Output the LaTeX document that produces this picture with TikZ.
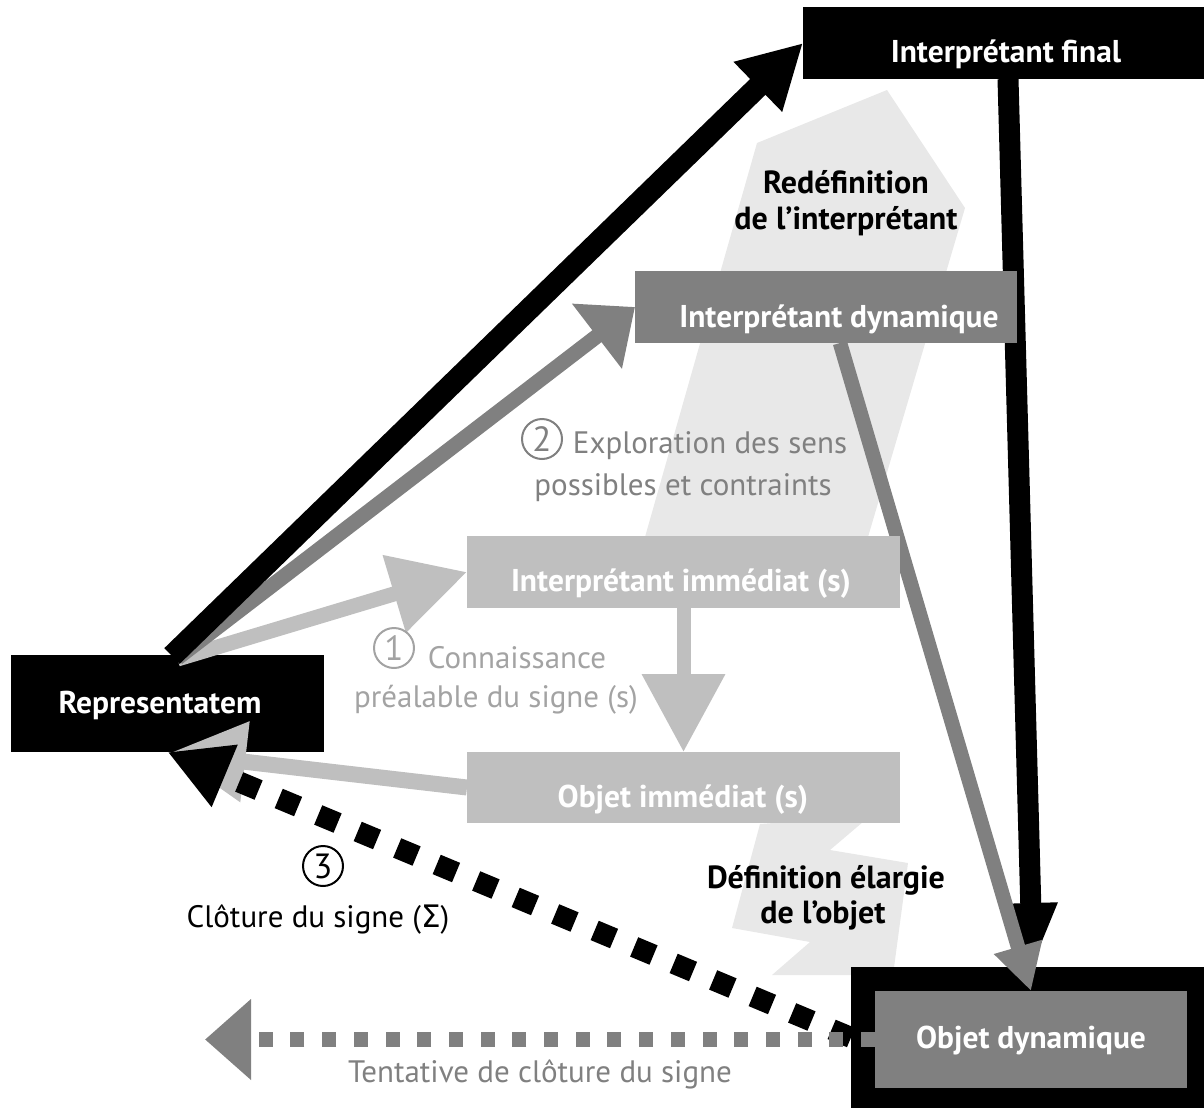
\documentclass[tikz,border=0pt]{standalone}
\usepackage{fontspec}
\setmainfont{PT Sans}
\newfontfamily\symfont{DejaVu Sans}
\usetikzlibrary{arrows.meta,calc}
\definecolor{dgray}{HTML}{808080}
\definecolor{lgray}{HTML}{BFBFBF}
\definecolor{bggray}{HTML}{E8E8E8}
\definecolor{lbl}{HTML}{A3A3A3}
\tikzset{
  boxn/.style={inner sep=0pt, outer sep=0pt, anchor=north west, draw=none},
  arr/.style n args={3}{line width=#1, -{Triangle[length=#2,width=#3]}},
  btxt/.style={inner sep=0pt, anchor=base, font=\fontsize{31.5}{36}\selectfont\bfseries, text=white},
  ktxt/.style={inner sep=0pt, anchor=base, font=\fontsize{32}{36}\selectfont\bfseries, text=black},
  rtxt/.style={inner sep=0pt, anchor=base, font=\fontsize{31}{36}\selectfont},
  circ/.style={circle, draw, line width=2pt, inner sep=0pt, minimum size=40pt, anchor=center, font=\fontsize{35}{36}\selectfont},
}
\begin{document}
\begin{tikzpicture}[x=1pt,y=-1pt]
\useasboundingbox (0,0) rectangle (1204,1108);
% background broad arrows
\fill[bggray] (645,537) -- (757,143) -- (887,90) -- (965,208) -- (868,537) -- cycle;
\fill[bggray] (760,824) -- (870,816) -- (830,850) -- (908,863) -- (893,975) -- (772,975) -- (810,942) -- (732,928) -- cycle;
% boxes (positions)
\node[boxn, fill=black, minimum width=313pt, minimum height=97pt] (rep) at (11,655) {};
\node[boxn, fill=black, minimum width=401pt, minimum height=72pt] (ifb) at (803,7) {};
\node[boxn, fill=dgray, minimum width=382pt, minimum height=72pt] (idb) at (635,271) {};
\node[boxn, fill=lgray, minimum width=433pt, minimum height=72pt] (iib) at (467,536) {};
\node[boxn, fill=lgray, minimum width=433pt, minimum height=71pt] (oib) at (467,752) {};
\node[boxn, fill=black, minimum width=353pt, minimum height=141pt] (odf) at (851,967) {};
% light gray arrows
\draw[lgray, arr={15pt}{76pt}{77pt}] ($(rep.north)+(10,4)$) -- (iib.west);
\draw[lgray, arr={14pt}{78pt}{80pt}] (iib.south) -- (oib.north);
\draw[lgray, arr={16pt}{76pt}{77pt}] (oib.west) -- ($(rep.south)+(2,1)$);
% black arrow to objet dynamique
\draw[black, arr={21pt}{64pt}{49pt}] ($(ifb.south)+(4.5,0)$) -- ($(odf.north)+(5,0)$);
% dark gray arrows
\draw[dgray, arr={15pt}{48pt}{79pt}] ($(rep.north)+(10,3)$) -- (idb.west);
\draw[dgray, arr={14.5pt}{46pt}{47pt}] ($(idb.south)+(14,0)$) -- ($(odf.north)+(3.5,24)$);
% black arrow to interpretant final
\draw[black, arr={22pt}{63pt}{65pt}] ($(rep.north)+(4.5,1)$) -- (ifb.west);
% boxes on top of passing shafts
\fill[black] (ifb.north west) rectangle (ifb.south east);
\fill[dgray] (idb.north west) rectangle (idb.south east);
\fill[lgray] (iib.north west) rectangle (iib.south east);
\fill[lgray] (oib.north west) rectangle (oib.south east);
% dotted connectors
\draw[black, arr={21pt}{62pt}{63pt}, dash pattern=on 21pt off 21.8pt] (odf.west) -- (rep.south);
\draw[dgray, arr={15pt}{46pt}{78pt}, dash pattern=on 14pt off 17.7pt] (875,1039.5) -- (205,1039.5) coordinate (tentend);
\node[boxn, fill=dgray, minimum width=312pt, minimum height=97pt] (odb) at (875,991) {};
% box labels
\node[btxt] (tif) at (1006,63) {Interprétant final};
\node[btxt] (tid) at (839,327) {Interprétant dynamique};
\node[btxt] (tii) at (681,591) {Interprétant immédiat (s)};
\node[btxt] (toi) at (683,807) {Objet immédiat (s)};
\node[btxt] (trep) at (160,713) {Representatem};
\node[btxt] (tod) at (1031,1048) {Objet dynamique};
% black labels
\node[ktxt] (red1) at (846,193) {Redéfinition};
\node[ktxt] (red2) at (846,229) {de l’interprétant};
\node[ktxt] (def1) at (826,888) {Définition élargie};
\node[ktxt] (def2) at (823,923) {de l’objet};
% gray labels
\node[circ, draw=dgray, text=dgray] (c2) at (542,439) {2};
\node[rtxt, text=dgray] (exp1) at (710,453) {Exploration des sens};
\node[rtxt, text=dgray] (exp2) at (683,495) {possibles et contraints};
\node[circ, draw=lbl, text=lbl] (c1) at (394,648) {1};
\node[rtxt, text=lbl] (con1) at (517,668) {Connaissance};
\node[rtxt, text=lbl] (con2) at (496,707) {préalable du signe (s)};
\node[circ, draw=black, text=black] (c3) at (323,866) {3};
\node[rtxt, text=black] (clo) at (318,927) {Clôture du signe ({\symfont Σ})};
\node[rtxt, text=dgray] (tent) at (540,1082) {Tentative de clôture du signe};
\end{tikzpicture}
\end{document}
